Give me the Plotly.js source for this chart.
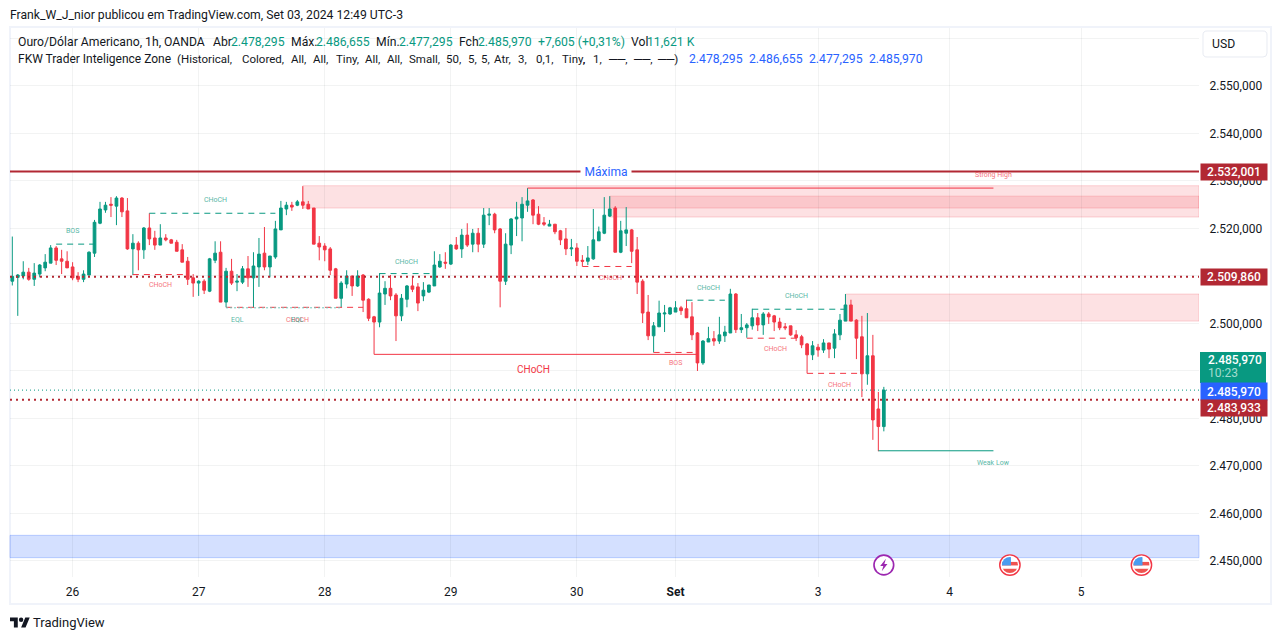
<!DOCTYPE html>
<html>
<head>
<meta charset="utf-8">
<script src="https://cdn.plot.ly/plotly-3.0.1.min.js"></script>
<style>
  html, body { margin: 0; padding: 0; background: #fff; overflow: hidden; }
  #plot { width: 1281px; height: 640px; }
</style>
</head>
<body>
<div id="plot"></div>
<script>
// barras de 1h, o eixo x conta as barras (sem fins de semana)
const opens = [2508.9,2509.7,2510.0,2510.8,2509.3,2510.4,2511.7,2512.7,2515.9,2513.6,
  2513.1,2511.9,2509.9,2509.3,2510.2,2514.8,2521.1,2523.9,2525.1,2524.7,
  2526.4,2523.7,2515.7,2516.9,2515.5,2520.1,2518.0,2516.5,2518.0,2517.6,
  2517.1,2515.5,2513.1,2509.6,2508.5,2508.9,2506.8,2513.3,2515.0,2504.5,
  2511.0,2508.7,2508.7,2511.5,2509.6,2511.9,2514.8,2511.9,2514.0,2519.7,
  2524.1,2524.9,2524.9,2525.6,2525.1,2524.3,2516.9,2516.3,2515.7,2511.5,
  2505.3,2508.3,2510.0,2507.9,2510.2,2505.1,2501.4,2500.3,2506.2,2507.4,
  2506.0,2501.6,2505.1,2507.9,2507.7,2505.8,2506.6,2507.9,2511.9,2512.9,
  2512.5,2516.5,2515.7,2518.6,2516.7,2519.0,2516.7,2522.8,2523.0,2519.9,
  2508.9,2516.5,2522.0,2522.2,2524.9,2526.0,2523.0,2521.2,2520.5,2520.9,
  2519.5,2517.8,2515.7,2515.9,2513.3,2513.1,2513.6,2517.4,2519.0,2522.6,
  2524.3,2515.0,2519.0,2519.7,2515.5,2508.9,2502.4,2497.4,2499.3,2502.0,
  2502.0,2502.4,2503.3,2503.1,2501.4,2498.0,2491.7,2496.1,2496.8,2496.3,
  2497.4,2498.0,2506.2,2498.7,2499.1,2499.5,2501.2,2499.7,2502.0,2501.6,
  2500.3,2499.3,2499.5,2497.6,2497.2,2495.7,2493.4,2495.0,2494.4,2495.9,
  2494.8,2497.6,2500.5,2503.9,2500.7,2497.2,2489.4,2493.2,2482.0,2478.295];
const highs = [2518.3,2510.4,2513.1,2511.7,2512.7,2512.5,2514.6,2516.5,2516.3,2515.5,
  2515.2,2512.9,2510.8,2511.2,2515.2,2521.8,2525.6,2525.6,2526.6,2526.8,
  2526.6,2526.4,2518.8,2517.3,2520.3,2523.2,2519.5,2520.9,2518.8,2517.8,
  2517.6,2516.7,2514.0,2510.4,2509.1,2509.3,2513.8,2517.3,2517.3,2511.7,
  2513.6,2510.4,2512.1,2514.2,2515.0,2518.0,2520.3,2514.2,2521.6,2525.8,
  2525.6,2525.6,2526.0,2528.9,2525.8,2524.3,2518.4,2516.9,2516.1,2511.7,
  2508.9,2511.2,2510.0,2511.2,2510.4,2505.3,2501.6,2510.6,2508.9,2510.2,
  2506.4,2506.2,2508.1,2510.0,2508.5,2508.7,2508.1,2515.2,2514.6,2515.0,
  2516.7,2518.2,2519.9,2521.1,2519.9,2520.1,2524.3,2524.3,2523.3,2520.1,
  2519.0,2522.2,2525.6,2526.6,2528.5,2526.2,2524.7,2522.4,2521.8,2520.9,
  2519.7,2520.1,2517.8,2516.9,2514.4,2516.3,2524.1,2520.4,2526.6,2526.8,
  2524.7,2521.6,2524.5,2519.9,2518.2,2509.3,2506.0,2500.3,2504.8,2503.9,
  2503.5,2504.7,2503.7,2505.0,2504.5,2498.2,2496.5,2499.3,2498.4,2501.4,
  2499.5,2507.3,2506.4,2502.0,2500.1,2503.1,2502.2,2502.4,2502.4,2501.8,
  2501.2,2500.1,2499.5,2498.6,2497.6,2495.9,2496.3,2495.7,2496.7,2495.9,
  2498.8,2502.0,2506.2,2505.0,2500.9,2501.6,2502.2,2497.6,2485.6,2486.655];
const lows = [2508.0,2501.6,2509.3,2509.0,2507.9,2509.7,2511.0,2512.7,2512.3,2510.4,
  2511.7,2509.1,2508.7,2508.7,2510.1,2514.0,2520.9,2523.3,2522.4,2520.7,
  2522.4,2515.5,2510.2,2511.2,2513.6,2516.5,2515.5,2516.5,2517.3,2516.9,
  2515.2,2512.9,2508.1,2505.6,2505.8,2506.2,2506.6,2512.7,2504.5,2503.4,
  2508.1,2506.8,2508.3,2507.7,2503.4,2507.7,2511.2,2509.7,2513.6,2519.7,
  2522.8,2523.7,2524.7,2524.1,2524.1,2516.7,2513.3,2513.1,2510.2,2505.3,
  2503.4,2507.4,2505.8,2507.7,2502.4,2500.5,2493.5,2499.2,2503.9,2504.9,
  2496.3,2500.5,2503.4,2506.6,2502.6,2504.7,2506.4,2507.9,2511.7,2511.5,
  2512.3,2515.5,2513.8,2516.1,2515.0,2515.0,2515.9,2520.7,2519.0,2503.4,
  2508.1,2514.6,2518.4,2517.3,2523.5,2520.9,2520.7,2520.5,2520.5,2518.8,
  2516.5,2514.4,2514.2,2512.1,2512.0,2512.3,2513.4,2517.4,2518.8,2522.4,
  2515.0,2514.8,2516.3,2512.7,2506.2,2500.1,2496.5,2493.9,2499.3,2498.2,
  2501.8,2502.4,2501.8,2501.2,2496.5,2490.0,2491.3,2496.1,2495.3,2495.7,
  2496.1,2498.0,2498.0,2498.0,2497.0,2498.7,2498.4,2497.6,2499.9,2498.4,
  2498.6,2498.6,2497.4,2496.3,2494.8,2489.5,2492.3,2493.0,2493.8,2492.7,
  2492.7,2496.5,2500.5,2500.5,2492.5,2484.5,2487.1,2475.5,2473.1,2477.295];
const closes = [2509.9,2510.2,2510.8,2509.3,2510.6,2512.3,2512.9,2515.9,2513.3,2513.1,
  2511.7,2509.6,2509.3,2510.4,2515.0,2521.3,2524.1,2524.9,2524.9,2526.4,
  2523.5,2515.7,2516.9,2515.5,2520.1,2517.8,2516.5,2518.0,2517.6,2516.9,
  2515.2,2512.9,2509.3,2508.5,2508.9,2507.0,2513.6,2514.8,2504.5,2511.0,
  2508.5,2508.9,2511.5,2509.6,2512.1,2514.6,2511.9,2514.2,2519.9,2524.3,
  2524.9,2524.5,2525.6,2524.9,2524.1,2516.7,2516.1,2515.5,2511.2,2505.3,
  2508.5,2510.0,2507.9,2510.0,2504.9,2501.1,2500.3,2506.4,2507.4,2505.8,
  2501.6,2505.3,2507.9,2507.2,2504.3,2507.0,2508.1,2512.3,2513.1,2512.7,
  2516.5,2515.7,2518.6,2516.5,2519.0,2516.7,2522.8,2523.0,2519.7,2508.9,
  2516.7,2522.0,2522.4,2525.1,2525.8,2522.8,2520.9,2520.9,2520.9,2519.3,
  2517.6,2515.7,2515.9,2513.1,2513.1,2513.8,2517.6,2519.3,2522.8,2524.1,
  2515.0,2519.5,2519.7,2515.2,2508.7,2502.2,2497.4,2499.5,2502.2,2502.2,
  2503.3,2503.3,2502.7,2501.2,2497.6,2491.7,2496.3,2496.8,2496.3,2497.6,
  2498.2,2506.2,2498.7,2499.1,2499.7,2501.2,2499.7,2502.0,2501.4,2500.3,
  2499.1,2499.1,2497.6,2497.0,2495.5,2493.4,2495.3,2494.4,2495.9,2494.6,
  2497.8,2500.7,2503.9,2500.5,2496.9,2489.4,2493.2,2479.7,2478.3,2485.97];

// eixos
const priceTicks = [2450,2460,2470,2480,2490,2500,2510,2520,2530,2540,2550,2560];
const priceLabels = ['2.450,000','2.460,000','2.470,000','2.480,000','2.490,000','2.500,000','2.510,000','2.520,000','2.530,000','2.540,000','2.550,000',''];
const dayBars = [11,34,57,80,103,121,147,171,195];
const dayLabels = ['26','27','28','29','30','<b>Set</b>','3','4','5'];

// niveis horizontais
const maxLevel = 2532.001, upperLevel = 2509.86, lowerLevel = 2483.933, lastPrice = 2485.97;

// zonas: barra inicial, topo, fundo
const zoneStarts = [53, 109, 152];
const zoneTops = [2529.0, 2526.8, 2506.2];
const zoneBottoms = [2524.3, 2522.4, 2500.5];
const blueZoneTop = 2455.4, blueZoneBottom = 2450.7;

// linhas de estrutura
const lineFrom = [8, 25, 22, 39, 39, 67, 66, 117, 104, 123, 135, 134, 145, 94, 158];
const lineTo = [15, 48, 32, 64, 60, 77, 125, 125, 113, 130, 152, 144, 155, 179, 179];
const linePrice = [2516.7, 2523.2, 2510.3, 2503.4, 2503.3, 2510.5, 2493.5, 2493.9, 2512.0, 2504.9, 2503.0, 2496.9, 2489.5, 2528.5, 2473.2];
const lineKind = ['gd','gd','rd','rd','gp','gd','rs','rd','rd','gd','gd','rd','rd','rs','gs'];

// rotulos das linhas
const labelBars = [10.9, 37, 27, 41, 52, 52, 72, 95, 109.2, 121, 127, 143, 139.2, 151, 179, 179];
const labelPrices = [2519.5, 2526.0, 2508.1, 2500.7, 2500.7, 2500.7, 2512.9, 2490.4, 2509.6, 2491.7, 2507.5, 2505.8, 2494.6, 2487.0, 2531.3, 2470.6];
const labelTexts = ['BOS','CHoCH','CHoCH','EQL','CHoCH','EQL','CHoCH','CHoCH','CHoCH','BOS','CHoCH','CHoCH','CHoCH','CHoCH','Strong High','Weak Low'];
const labelSides = ['g','g','r','g','r','g','g','r','r','r','g','g','r','r','r','g'];

const eventBars = [159, 182, 206];

// legenda do indicador, palavra a palavra
const studyWords = ['FKW Trader Inteligence Zone','(Historical,','Colored,','All,','All,','Tiny,','All,','All,','Small,','50,','5,','5,','Atr,','3,','0,1,','Tiny,',',','1,','──,','──,','──)'];
const studyWordX = [18,177,242,291,313,336,365,387,409,446,468,481,494,518,536,562,583,593,608,633,657];

const green = '#089981', red = '#f23645', darkRed = '#b22833', blue = '#2962ff', ink = '#131722';
const font = 'Roboto, sans-serif';
const gridColor = 'rgba(42,46,57,0.06)';

// conversao de pixel da janela para coordenada paper
const plotL = 10, plotR = 1199, plotT = 28, plotB = 577;
const px = v => (v - plotL) / (plotR - plotL);
const py = v => (plotB - v) / (plotB - plotT);

const bars = opens.map((_, i) => i);
let traces = [{
  type: 'candlestick', x: bars, open: opens, high: highs, low: lows, close: closes,
  increasing: {line: {color: green, width: 1}, fillcolor: green},
  decreasing: {line: {color: red, width: 1}, fillcolor: red},
  whiskerwidth: 0, hoverinfo: 'skip'
}];

const lineStyles = {
  gd: {color: green, width: 1, dash: '6px,5px'},
  rd: {color: red, width: 1, dash: '6px,5px'},
  gp: {color: '#6fc7b8', width: 1, dash: '2px,2px'},
  rs: {color: red, width: 1},
  gs: {color: green, width: 1}
};
lineFrom.forEach((a, i) => {
  traces.push({type: 'scatter', mode: 'lines', x: [a, lineTo[i]], y: [linePrice[i], linePrice[i]],
    line: lineStyles[lineKind[i]], hoverinfo: 'skip'});
});

// retangulo de cantos arredondados em coordenadas paper
const roundRect = (l, t, r, b, c) => {
  const X = v => px(v).toFixed(5), Y = v => py(v).toFixed(5);
  return `M${X(l + c)},${Y(t)} L${X(r - c)},${Y(t)} Q${X(r)},${Y(t)} ${X(r)},${Y(t + c)} L${X(r)},${Y(b - c)} Q${X(r)},${Y(b)} ${X(r - c)},${Y(b)} L${X(l + c)},${Y(b)} Q${X(l)},${Y(b)} ${X(l)},${Y(b - c)} L${X(l)},${Y(t + c)} Q${X(l)},${Y(t)} ${X(l + c)},${Y(t)} Z`;
};

let shapes = [
  {type: 'rect', xref: 'paper', yref: 'paper', x0: px(10), x1: px(1271), y0: py(604), y1: py(27),
    line: {color: '#f0f3fa', width: 2}, layer: 'below'},
  {type: 'rect', xref: 'paper', yref: 'y', x0: 0, x1: 1, y0: blueZoneBottom, y1: blueZoneTop,
    fillcolor: 'rgba(41,98,255,0.2)', line: {color: 'rgba(41,98,255,0.25)', width: 1}, layer: 'below'},
  {type: 'line', xref: 'paper', yref: 'y', x0: 0, x1: 1, y0: maxLevel, y1: maxLevel, line: {color: darkRed, width: 2}},
  {type: 'line', xref: 'paper', yref: 'y', x0: 0, x1: 1, y0: upperLevel, y1: upperLevel, line: {color: darkRed, width: 2, dash: '2px,4px'}},
  {type: 'line', xref: 'paper', yref: 'y', x0: 0, x1: 1, y0: lowerLevel, y1: lowerLevel, line: {color: darkRed, width: 2, dash: '2px,4px'}},
  {type: 'line', xref: 'paper', yref: 'y', x0: 0, x1: 1, y0: lastPrice, y1: lastPrice, line: {color: green, width: 1, dash: '1px,3px'}},
  // botao USD
  {type: 'path', xref: 'paper', yref: 'paper', path: roundRect(1203, 31, 1267, 57, 4),
    fillcolor: '#fff', line: {color: '#e8ebf2', width: 1}, layer: 'above'},
  // etiqueta verde do ultimo preco
  {type: 'rect', xref: 'paper', yref: 'paper', x0: px(1200), x1: px(1266), y0: py(383), y1: py(352),
    fillcolor: green, line: {width: 0}, layer: 'above'}
];
zoneStarts.forEach((s, i) => {
  shapes.push({type: 'rect', xref: 'x', yref: 'y', x0: s, x1: 216.5, y0: zoneBottoms[i], y1: zoneTops[i],
    fillcolor: 'rgba(242,54,69,0.15)', line: {color: 'rgba(242,54,69,0.2)', width: 1}, layer: 'below'});
});

const note = (x, y, text, color, size, extra) => Object.assign({
  xref: 'paper', yref: 'paper', x: px(x), y: py(y), text: text, showarrow: false, xshift: -2,
  xanchor: 'left', yanchor: 'middle', font: {family: font, size: size || 12.2, color: color || ink}
}, extra || {});

let annotations = [
  note(10, 15, 'Frank_W_J_nior publicou em TradingView.com, Set 03, 2024 12:49 UTC-3'),
  note(18, 42, 'Ouro/Dólar Americano, 1h, OANDA'),
  note(213, 42, 'Abr'), note(231, 42, '2.478,295', green),
  note(291, 42, 'Máx.'), note(316, 42, '2.486,655', green),
  note(376, 42, 'Mín.'), note(399, 42, '2.477,295', green),
  note(459, 42, 'Fch'), note(478, 42, '2.485,970', green),
  note(538, 42, '+7,605 (+0,31%)', green),
  note(631, 42, 'Vol'), note(647, 42, '11,621 K', green),
  note(689, 59, '2.478,295', blue), note(749, 59, '2.486,655', blue),
  note(809, 59, '2.477,295', blue), note(869, 59, '2.485,970', blue),
  note(1212, 44, 'USD'),
  note(580, 171.5, 'Máxima', blue, 12, {width: 50, height: 14, align: 'center', bgcolor: '#fff', borderpad: 0, xshift: 0}),
  note(33, 622, 'TradingView', ink, 13)
];
studyWords.forEach((w, i) => annotations.push(note(studyWordX[i], 59, w, ink, i === 0 ? 12 : 11.5)));

// etiquetas de preco na escala
const tag = (y, text, color, h) => ({
  xref: 'paper', yref: 'paper', x: px(1200), y: py(y), text: text, showarrow: false,
  xanchor: 'left', yanchor: 'middle', width: 66, height: h, borderpad: 0, align: 'center',
  bgcolor: color, font: {family: font, size: 12, color: '#fff', weight: 500}
});
annotations.push(tag(172, '2.532,001', darkRed, 16));
annotations.push(tag(277, '2.509,860', darkRed, 16));
annotations.push(note(1208, 360, '2.485,970', '#fff', 12, {font: {family: font, size: 12, color: '#fff', weight: 500}}));
annotations.push(note(1208, 373, '10:23', '#a3dccf', 12));
annotations.push(tag(391.5, '2.485,970', blue, 17));
annotations.push(tag(408, '2.483,933', darkRed, 16));

labelTexts.forEach((t, i) => {
  const big = labelBars[i] === 95;
  annotations.push({
    xref: 'x', yref: 'y', x: labelBars[i], y: labelPrices[i], text: t, showarrow: false,
    font: {family: font, size: big ? 10 : 7, color: labelSides[i] === 'g' ? '#089981' : red},
    opacity: big ? 1 : 0.7
  });
});

const svgUri = s => 'data:image/svg+xml;base64,' + btoa(s);
const boltIcon = svgUri('<svg xmlns="http://www.w3.org/2000/svg" viewBox="0 0 22 22"><circle cx="11" cy="11" r="9.5" fill="#fff" stroke="#9c27b0" stroke-width="1.6"/><path d="M13 5l-5.5 7h3L9 17l5.5-7h-3z" fill="#9c27b0"/></svg>');
const flagIcon = svgUri('<svg xmlns="http://www.w3.org/2000/svg" viewBox="0 0 22 22"><clipPath id="c"><circle cx="11" cy="11" r="7.8"/></clipPath><circle cx="11" cy="11" r="9.8" fill="#fff" stroke="#f23645" stroke-width="1.4"/><g clip-path="url(#c)"><rect x="3" y="3" width="16" height="16" fill="#fff"/><rect x="3" y="8" width="16" height="3.4" fill="#ef5350"/><rect x="3" y="14.6" width="16" height="4.4" fill="#ef5350"/><rect x="3" y="3" width="9" height="8.4" fill="#4a9cf0"/></g></svg>');
const logoIcon = svgUri('<svg xmlns="http://www.w3.org/2000/svg" viewBox="0 0 36 28"><path fill="#131722" d="M14 22H7V11H0V4h14v18zM28 22h-8l7.5-18h8L28 22z"/><circle cx="20" cy="8" r="4" fill="#131722"/></svg>');

let images = eventBars.map((b, i) => ({
  source: i === 0 ? boltIcon : flagIcon, xref: 'x', yref: 'y', x: b, y: 2449.15,
  sizex: 4.2, sizey: 4.8, xanchor: 'center', yanchor: 'middle', sizing: 'contain', layer: 'above'
}));
images.push({source: logoIcon, xref: 'paper', yref: 'paper', x: px(10), y: py(623), sizex: 20 / 1189, sizey: 16 / 549,
  xanchor: 'left', yanchor: 'middle', sizing: 'contain', layer: 'above'});

const layout = {
  width: 1281, height: 640,
  margin: {l: plotL, r: 1281 - plotR, t: plotT, b: 640 - plotB, pad: 0},
  paper_bgcolor: '#fff', plot_bgcolor: 'rgba(0,0,0,0)',
  showlegend: false, dragmode: false, hovermode: false,
  font: {family: font, size: 12, color: ink},
  xaxis: {type: 'linear', range: [-0.42, 216.5], tickmode: 'array', tickvals: dayBars, ticktext: dayLabels,
    showgrid: true, gridcolor: gridColor, gridwidth: 1, zeroline: false, showline: false,
    ticks: 'outside', ticklen: 4, tickcolor: 'rgba(0,0,0,0)', rangeslider: {visible: false}},
  yaxis: {side: 'right', range: [2446.63, 2562.2], tickmode: 'array', tickvals: priceTicks, ticktext: priceLabels,
    showgrid: true, gridcolor: gridColor, gridwidth: 1, zeroline: false, showline: false,
    ticks: 'outside', ticklen: 7, tickcolor: 'rgba(0,0,0,0)'},
  shapes: shapes, annotations: annotations, images: images
};

Plotly.newPlot('plot', traces, layout, {staticPlot: true, displayModeBar: false});
</script>
</body>
</html>
